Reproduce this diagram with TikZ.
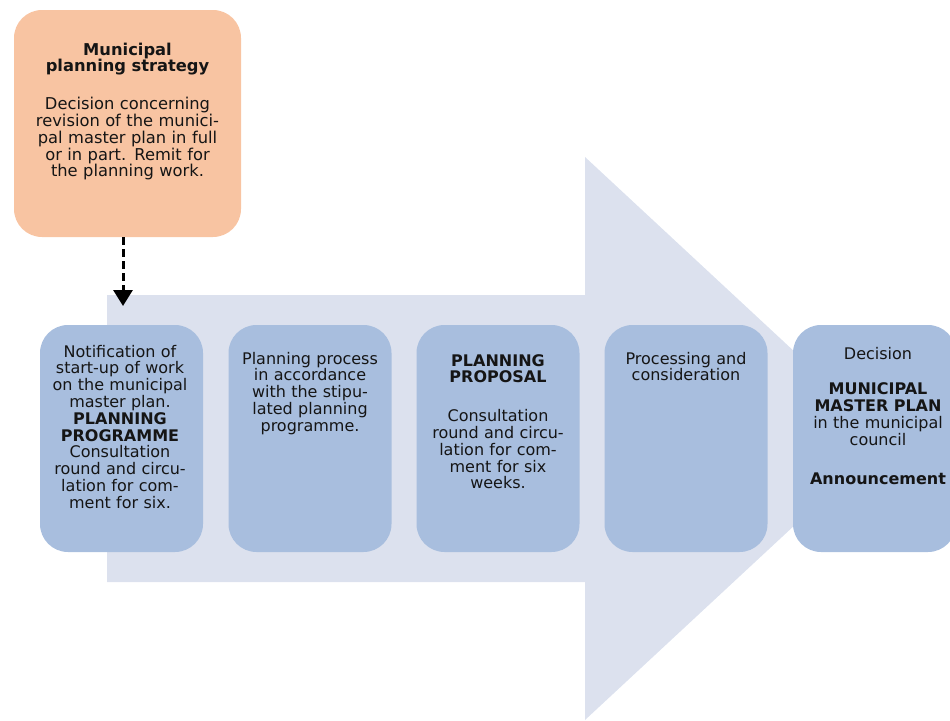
\documentclass[tikz,border=0pt]{standalone}
\usepackage{fontspec}
\setmainfont{DejaVu Sans}
\usetikzlibrary{arrows.meta}
\definecolor{peach}{HTML}{F8C4A2}
\definecolor{boxblue}{HTML}{A8BEDE}
\definecolor{arrowbg}{HTML}{DCE1EE}
\definecolor{ink}{HTML}{151515}
\begin{document}
\begin{tikzpicture}[x=1pt,y=-1pt,
  stagebox/.style={fill=boxblue, draw=none, rounded corners=28pt, minimum width=163pt, minimum height=227pt, inner sep=0pt},
  stagetext/.style={anchor=base, align=center, text width=160pt, inner sep=0pt, text=ink, font=\fontsize{16}{16.8}\selectfont},
  strategybox/.style={fill=peach, draw=none, rounded corners=28pt, minimum width=227pt, minimum height=227pt, inner sep=0pt},
  strategytext/.style={anchor=base, align=center, text width=224pt, inner sep=0pt, text=ink, font=\fontsize{16.3}{16.8}\selectfont},
  dasharrow/.style={draw=black, line width=3pt, dash pattern=on 8pt off 4pt, -{Triangle[length=16pt,width=19pt]}}
]
\useasboundingbox (0,0) rectangle (950,720);
% big background arrow
\fill[arrowbg] (107,295) -- (585,295) -- (585,157) -- (888,438.5) -- (585,720) -- (585,582) -- (107,582) -- cycle;

% strategy box
\node[strategybox] (ob) at (127.5,123.5) {};
\node[strategytext] (ot) at (127.5,55) {\textbf{Municipal}\\ \textbf{planning strategy}\\[21pt] Decision concerning\\ revision of the munici-\\ pal master plan in full\\ or in part. Remit for\\ the planning work.};

% stage boxes
\node[stagebox] (b1) at (121.5,438.5) {};
\node[stagebox] (b2) at (310,438.5) {};
\node[stagebox] (b3) at (498,438.5) {};
\node[stagebox] (b4) at (686,438.5) {};
\node[stagebox] (b5) at (874.5,438.5) {};

\node[stagetext] (t1) at (120,357) {Notification of\\ start-up of work\\ on the municipal\\ master plan.\\ \textbf{PLANNING}\\ \textbf{PROGRAMME}\\ Consultation\\ round and circu-\\ lation for com-\\ ment for six.};
\node[stagetext] (t2) at (310,364) {Planning process\\ in accordance\\ with the stipu-\\ lated planning\\ programme.};
\node[stagetext] (t3) at (498,366) {\textbf{PLANNING}\\ \textbf{PROPOSAL}\\[22pt] Consultation\\ round and circu-\\ lation for com-\\ ment for six\\ weeks.};
\node[stagetext] (t4) at (686,364) {Processing and\\ consideration};
\node[stagetext] (t5) at (878,359) {Decision\\[19pt] \textbf{MUNICIPAL}\\ \textbf{MASTER PLAN}\\ in the municipal\\ council\\[22pt] \textbf{Announcement}};

% dashed connector
\coordinate (tip) at (123,306);
\draw[dasharrow] (ob.south -| tip) -- (tip);
\end{tikzpicture}
\end{document}
